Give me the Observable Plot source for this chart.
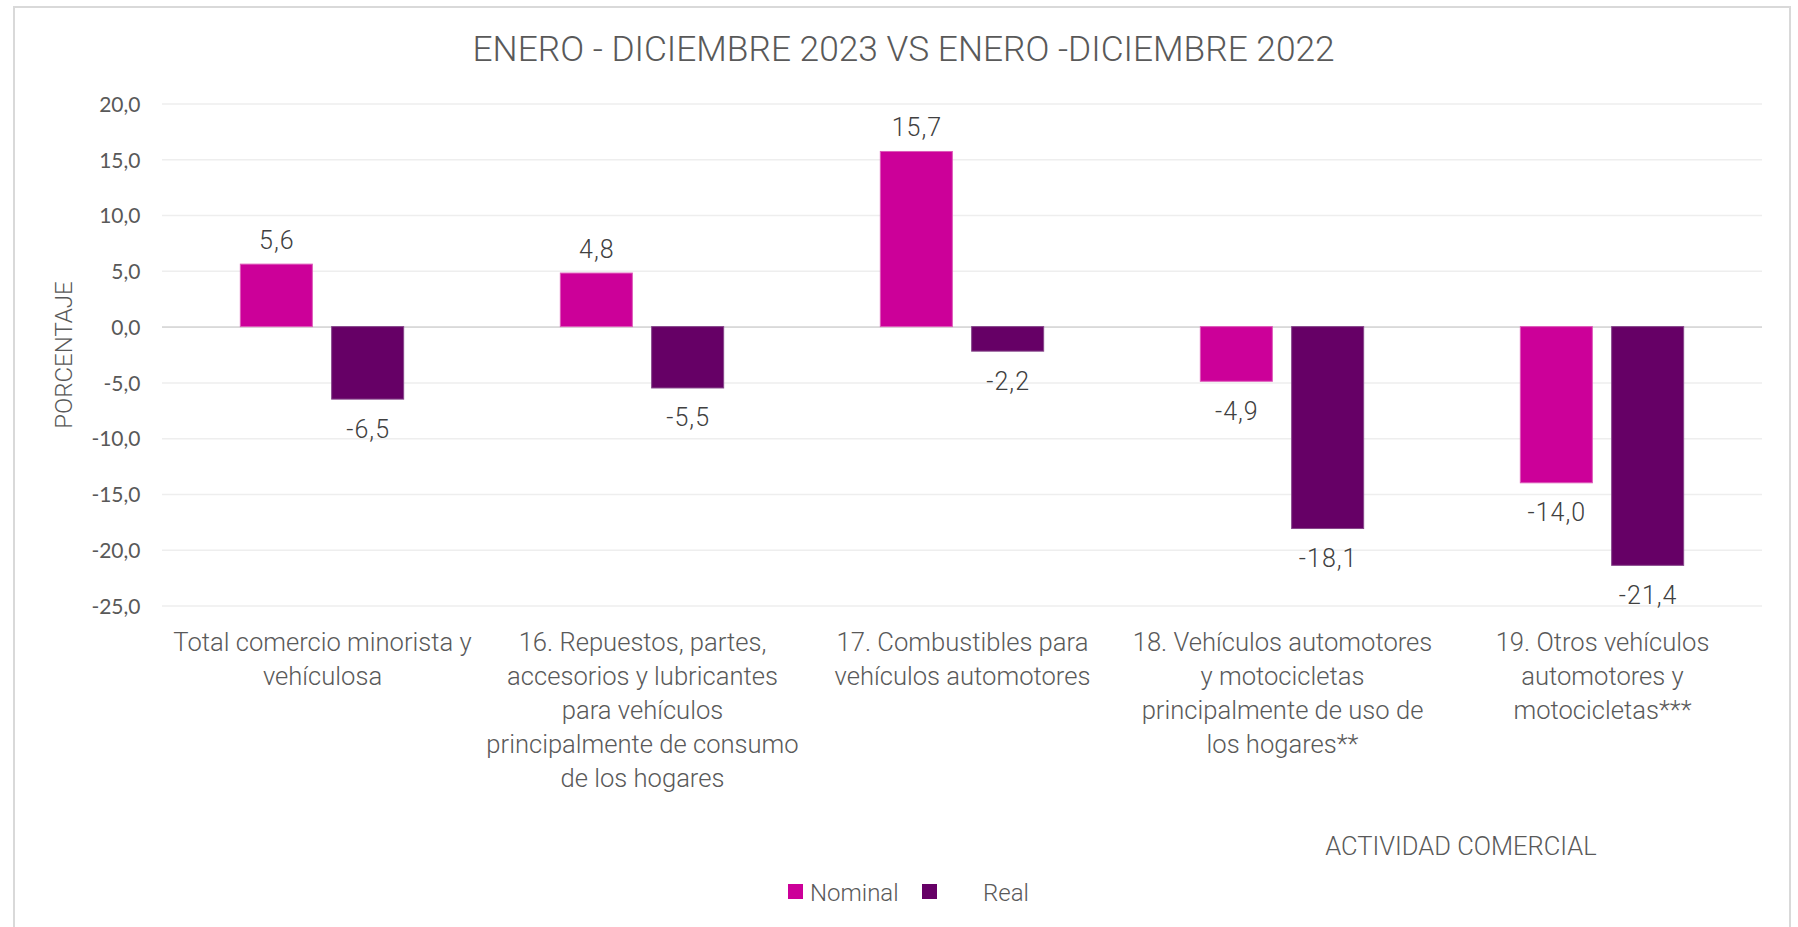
<!DOCTYPE html>
<html>
<head>
<meta charset="utf-8">
<script src="https://cdn.jsdelivr.net/npm/d3@7"></script>
<script src="https://cdn.jsdelivr.net/npm/@observablehq/plot@0.6"></script>
<style>
  html, body { margin: 0; padding: 0; background: #ffffff; }
  #wrap { position: relative; width: 1798px; height: 927px; overflow: hidden; background: #ffffff;
          font-family: Roboto, "Noto Sans", sans-serif; font-weight: 300; color: #595959; }
  #frame { position: absolute; left: 13px; top: 6px; width: 1778px; height: 960px;
           border: 2px solid #d9d9d9; box-sizing: border-box; }
  #chart { position: absolute; left: 0; top: 0; }
  .lbl { position: absolute; white-space: nowrap; line-height: 1; }
  #title { left: 4.6px; width: 1798px; top: 32px; text-align: center; font-size: 35.3px; }
  #ylabel { left: 64px; top: 355px; font-size: 24px; transform: translate(-50%, -50%) rotate(-90deg); }
  #xlabel { left: 1161px; width: 600px; top: 833.5px; text-align: center; font-size: 25.5px; }
  .sw { position: absolute; width: 15px; height: 15px; top: 884px; }
  .leg { position: absolute; top: 881px; font-size: 24px; line-height: 1; }
</style>
</head>
<body>
<div id="wrap">
  <div id="frame"></div>
  <div id="chart"></div>
  <div class="lbl" id="title"></div>
  <div class="lbl" id="ylabel"></div>
  <div class="lbl" id="xlabel"></div>
  <div id="legend"></div>
</div>
<script>
// ---- data ----
const categories = ["total", "c16", "c17", "c18", "c19"];
const categoryLabels = [
  "Total comercio minorista y\nvehículosa",
  "16. Repuestos, partes,\naccesorios y lubricantes\npara vehículos\nprincipalmente de consumo\nde los hogares",
  "17. Combustibles para\nvehículos automotores",
  "18. Vehículos automotores\ny motocicletas\nprincipalmente de uso de\nlos hogares**",
  "19. Otros vehículos\nautomotores y\nmotocicletas***"
];
const seriesNames = ["Nominal", "Real"];
const nominal = [5.6, 4.8, 15.7, -4.9, -14.0];
const real = [-6.5, -5.5, -2.2, -18.1, -21.4];
const seriesColors = ["#cc0099", "#660066"];
const seriesOutline = ["#dd5ab9", "#86468a"];
const yTicks = [20, 15, 10, 5, 0, -5, -10, -15, -20, -25];
const titleText = "ENERO - DICIEMBRE 2023 VS ENERO -DICIEMBRE 2022";
const yTitle = "PORCENTAJE";
const xTitle = "ACTIVIDAD COMERCIAL";

// ---- table ----
const rows = [];
categories.forEach((c, i) => {
  rows.push({cat: c, series: seriesNames[0], value: nominal[i]});
  rows.push({cat: c, series: seriesNames[1], value: real[i]});
});
const labelOf = Object.fromEntries(categories.map((c, i) => [c, categoryLabels[i]]));
const fmt = v => v.toFixed(1).replace(".", ",");

const chart = Plot.plot({
  width: 1798,
  height: 927,
  marginTop: 103.5,
  marginBottom: 321.5,
  marginLeft: 162,
  marginRight: 36,
  style: {fontFamily: "Roboto, sans-serif", background: "transparent", color: "#595959", overflow: "visible"},
  fx: {domain: categories, padding: 0, axis: null, label: null},
  x: {domain: seriesNames, paddingInner: 0.2114, paddingOuter: 0.858, round: false, axis: null},
  y: {domain: [-25, 20], axis: null},
  color: {domain: seriesNames, range: seriesColors},
  marks: [
    Plot.gridY(yTicks, {stroke: "#eeeeee", strokeOpacity: 1, strokeWidth: 1.5}),
    Plot.ruleY([0], {stroke: "#d9d9d9", strokeWidth: 1.6}),
    Plot.barY(rows, {
      fx: "cat", x: "series", y: "value", fill: "series",
      stroke: d => seriesOutline[seriesNames.indexOf(d.series)], strokeWidth: 1
    }),
    Plot.text(rows.filter(d => d.value >= 0), {
      fx: "cat", x: "series", y: "value", text: d => fmt(d.value),
      dy: -24, fontSize: 25, fontWeight: 300, fill: "#404040"
    }),
    Plot.text(rows.filter(d => d.value < 0), {
      fx: "cat", x: "series", y: "value", text: d => fmt(d.value),
      dy: 30, fontSize: 25, fontWeight: 300, fill: "#404040"
    }),
    Plot.axisY(yTicks, {
      tickSize: 0, tickPadding: 22, tickFormat: fmt, fontSize: 21,
      fontFamily: "Lato, sans-serif", fontWeight: 400, fill: "#595959", dy: 1, label: null
    }),
    Plot.axisFx({
      anchor: "bottom", tickSize: 0, tickPadding: 20.5, tickFormat: d => labelOf[d],
      fontSize: 25.6, fontWeight: 300, lineHeight: 1.33, fill: "#595959", label: null
    })
  ]
});
document.getElementById("chart").appendChild(chart);
d3.select(chart).selectAll('g[aria-label="text"] text').style("letter-spacing", "1px");

// ---- html text ----
document.getElementById("title").textContent = titleText;
document.getElementById("ylabel").textContent = yTitle;
document.getElementById("xlabel").textContent = xTitle;

const legend = document.getElementById("legend");
const legendPos = [{sw: 788, tx: 810}, {sw: 922, tx: 983}];
seriesNames.forEach((s, i) => {
  const sw = document.createElement("div");
  sw.className = "sw";
  sw.style.left = legendPos[i].sw + "px";
  sw.style.background = seriesColors[i];
  legend.appendChild(sw);
  const t = document.createElement("div");
  t.className = "leg";
  t.style.left = legendPos[i].tx + "px";
  t.textContent = s;
  legend.appendChild(t);
});
</script>
</body>
</html>
